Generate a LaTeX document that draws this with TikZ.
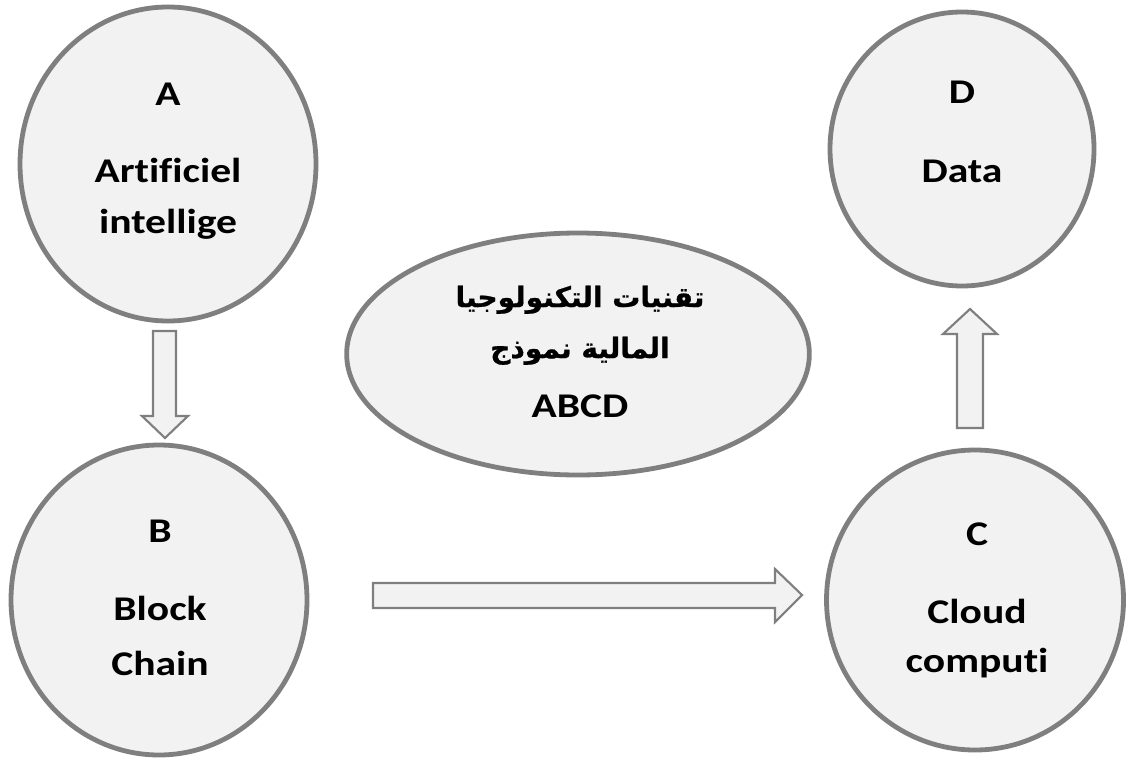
\documentclass[tikz,border=0pt]{standalone}
\usepackage{fontspec}
\setmainfont{Carlito}[Ligatures={NoCommon}, FakeStretch=1.2]
\newfontfamily\arabicfont[Script=Arabic, BoldFeatures={FakeBold=0.8}]{DejaVu Sans}
\TeXXeTstate=1
\usetikzlibrary{shapes.geometric}
\definecolor{fillg}{HTML}{F2F2F2}
\definecolor{lineg}{HTML}{7F7F7F}
\begin{document}
\begin{tikzpicture}[x=0.75pt,y=-0.75pt,
  bubble/.style={ellipse, draw=lineg, fill=fillg, line width=3.6pt, inner sep=0pt},
  lbl/.style={font=\bfseries\fontsize{26}{31}\selectfont, inner sep=0pt, anchor=base},
  arlbl/.style={font=\arabicfont\bfseries\fontsize{21}{26}\selectfont, inner sep=0pt, anchor=base},
  barrow/.style={draw=lineg, fill=fillg, line width=1.6pt, line join=miter}]
\useasboundingbox (0,0) rectangle (1130,760);
% circles
\node[bubble, minimum width=222pt, minimum height=235.5pt] (A) at (168,164) {};
\node[bubble, minimum width=222pt, minimum height=232.5pt] (B) at (159,600) {};
\node[bubble, minimum width=222.75pt, minimum height=225pt] (C) at (975,600) {};
\node[bubble, minimum width=198pt, minimum height=205.5pt] (D) at (962,149) {};
\node[bubble, minimum width=347pt, minimum height=181.5pt] (E) at (578,354) {};
% labels
\node[lbl] (Aa) at (168,105) {A};
\node[lbl] (Ab) at (168,182) {Artificiel};
\node[lbl] (Ac) at (168,233) {intellige};
\node[lbl] (Ba) at (160,542) {B};
\node[lbl] (Bb) at (160,620) {Block};
\node[lbl] (Bc) at (160,675) {Chain};
\node[lbl] (Ca) at (977,545) {C};
\node[lbl] (Cb) at (977,623) {Cloud};
\node[lbl] (Cc) at (977,672) {computi};
\node[lbl] (Da) at (962,103) {D};
\node[lbl] (Db) at (962,182) {Data};
\node[arlbl] (Ea) at (580,307) {\beginR تقنيات التكنولوجيا\endR};
\node[arlbl] (Eb) at (580,358) {\beginR المالية نموذج\endR};
\node[lbl] (Ec) at (580,417) {ABCD};
% block arrows
\draw[barrow] (153,331) -- (176,331) -- (176,416) -- (188,416) -- (165,438)
  -- (142,416) -- (153,416) -- cycle;
\draw[barrow] (373,583) -- (775,583) -- (775,569) -- (802,595) -- (775,622)
  -- (775,608) -- (373,608) -- cycle;
\draw[barrow] (957,428) -- (957,334) -- (943,334) -- (970,309) -- (997,334)
  -- (983,334) -- (983,428) -- cycle;
\end{tikzpicture}
\end{document}
